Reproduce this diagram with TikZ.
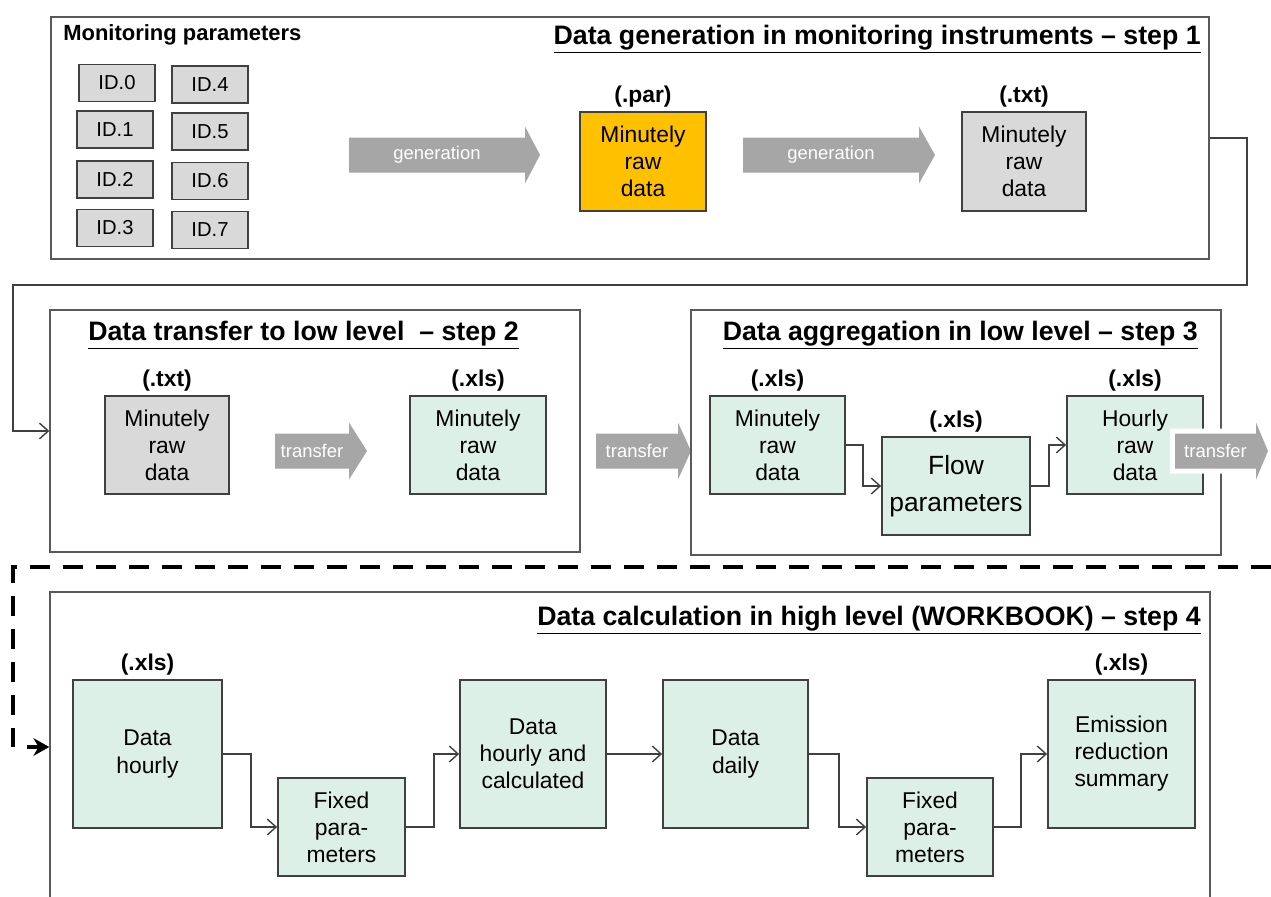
\documentclass[tikz,border=0pt]{standalone}
\usepackage{fontspec}
\setmainfont{Liberation Sans}
\usetikzlibrary{positioning, fit, arrows.meta}

\definecolor{idgray}{HTML}{D9D9D9}
\definecolor{mint}{HTML}{DDF0E7}
\definecolor{amber}{HTML}{FFC000}
\definecolor{arrgray}{HTML}{A6A6A6}
\definecolor{edge}{HTML}{404040}

\tikzset{
  stepframe/.style={draw=black!65, line width=0.8pt, inner sep=0pt},
  databox/.style={draw=edge, line width=1pt, align=center, inner sep=1pt, font=\fontsize{13}{15.4}\selectfont},
  greybox/.style={databox, fill=idgray},
  greenbox/.style={databox, fill=mint},
  idbox/.style={draw=edge, line width=1pt, fill=idgray, minimum width=1.52cm, minimum height=0.74cm, font=\fontsize{11.5}{13}\selectfont},
  ext/.style={font=\bfseries\fontsize{13}{15}\selectfont, inner sep=0pt},
  steptitle/.style={font=\bfseries\fontsize{15.2}{18}\selectfont, inner sep=0pt},
  link/.style={draw=edge, line width=0.8pt, -{Straight Barb[length=5pt, width=9pt]}},
  arrtext/.style={text=white, font=\fontsize{10.5}{12}\selectfont, inner sep=0pt},
  dashline/.style={line width=2pt, dash pattern=on 0.4cm off 0.26cm},
}

% grey block arrow: [extra]{name}{x tail}{x head}{x tip}{y}{text}
\newcommand{\grayarrow}[7][]{%
  \fill[arrgray,#1] (#3,#6-17.5) -- (#4,#6-17.5) -- (#4,#6-28.5) -- (#5,#6) -- (#4,#6+28.5) -- (#4,#6+17.5) -- (#3,#6+17.5) -- cycle;
  \node[arrtext] (#2) at ({(#3+#4)/2},#6) {#7};}

\begin{document}
\begin{tikzpicture}[x=0.02cm, y=-0.02cm]
\useasboundingbox (0,0) rectangle (1271,896);

% step 1
\node[stepframe, fit={(51,17) (1209,259)}] (f1) {};
\node[steptitle, anchor=east] (t1) at (1201,39) {\underline{Data generation in monitoring instruments – step 1}};
\node[font=\bfseries\fontsize{12.5}{15}\selectfont, anchor=west, inner sep=0pt] (mp) at (63,35) {Monitoring parameters};

\node[idbox] (id0) at (117,83) {ID.0};
\node[idbox] (id1) at (115,129.5) {ID.1};
\node[idbox] (id2) at (115,179.5) {ID.2};
\node[idbox] (id3) at (115,228) {ID.3};
\node[idbox] (id4) at (210,84.5) {ID.4};
\node[idbox] (id5) at (210,131.5) {ID.5};
\node[idbox] (id6) at (210,181) {ID.6};
\node[idbox] (id7) at (210,230) {ID.7};

\grayarrow{gen1}{349}{525}{540}{155}{generation}
\node[databox, fill=amber, minimum width=2.52cm, minimum height=1.98cm] (par) at (643,161.5) {Minutely\\raw\\data};
\node[ext, above=2pt of par] (parl) {(.par)};
\grayarrow{gen2}{743}{919}{935}{155}{generation}
\node[greybox, minimum width=2.48cm, minimum height=1.98cm] (txt1) at (1024,161.5) {Minutely\\raw\\data};
\node[ext, above=2pt of txt1] (txt1l) {(.txt)};

% step 2
\node[stepframe, fit={(50,310) (580,552)}] (f2) {};
\node[steptitle, anchor=west] (t2) at (88,335) {\underline{Data transfer to low level~ – step 2}};
\node[greybox, minimum width=2.48cm, minimum height=1.96cm] (txt2) at (167,445) {Minutely\\raw\\data};
\node[ext, above=2pt of txt2] (txt2l) {(.txt)};
\grayarrow{tr1}{275}{349}{367}{451}{transfer}
\node[greenbox, minimum width=2.72cm, minimum height=1.96cm] (xls2) at (478,445) {Minutely\\raw\\data};
\node[ext, above=2pt of xls2] (xls2l) {(.xls)};

\draw[link] (f1.east |- 0,138) -| (1247,285) -- (13,285) |- (f2.west);%vers step 2

\grayarrow{tr2}{596}{678}{691}{451}{transfer}

% step 3
\node[stepframe, fit={(691,310) (1221,555)}] (f3) {};
\node[steptitle, anchor=east] (t3) at (1198,335) {\underline{Data aggregation in low level – step 3}};
\node[greenbox, minimum width=2.7cm, minimum height=1.96cm] (min3) at (777.5,445) {Minutely\\raw\\data};
\node[ext, above=2pt of min3] (min3l) {(.xls)};
\node[greenbox, minimum width=2.96cm, minimum height=1.96cm, font=\fontsize{15}{21}\selectfont] (flow) at (956,486) {Flow\\parameters};
\node[ext, above=2pt of flow] (flowl) {(.xls)};
\node[greenbox, minimum width=2.72cm, minimum height=1.96cm] (hour) at (1135,445) {Hourly\\raw\\data};
\node[ext, above=2pt of hour] (hourl) {(.xls)};
\draw[link] (min3.east) -- ++(17,0) |- (flow.west);
\draw[link] (flow.east) -- ++(18,0) |- (hour.west);
\grayarrow[preaction={draw=white, line width=0.2cm}]{tr3}{1175}{1256}{1268}{451}{transfer}

% separation + step 4
\coordinate (dst) at (1271,567);
\coordinate (dbend) at (13,747);
\coordinate (dtail) at (27,747);
\draw[dashline] (dst) -| (dbend);

\node[stepframe, fit={(50,592) (1210,920)}] (f4) {};
\draw[line width=1.8pt, -{Stealth[length=9pt, width=10pt]}] (dtail) -- (f4.west |- dtail);
\node[steptitle, anchor=east] (t4) at (1201,620) {\underline{Data calculation in high level (WORKBOOK) – step 4}};

\node[greenbox, minimum width=2.98cm, minimum height=2.96cm] (dh) at (147.5,754) {Data\\hourly};
\node[ext, above=2pt of dh] (dhl) {(.xls)};
\node[greenbox, minimum width=2.54cm, minimum height=1.96cm] (fp1) at (341.5,827) {Fixed\\para-\\meters};
\node[greenbox, minimum width=2.92cm, minimum height=2.96cm] (dhc) at (533,754) {Data\\hourly and\\calculated};
\node[greenbox, minimum width=2.9cm, minimum height=2.96cm] (dd) at (735.5,754) {Data\\daily};
\node[greenbox, minimum width=2.52cm, minimum height=1.96cm] (fp2) at (930,827) {Fixed\\para-\\meters};
\node[greenbox, minimum width=2.94cm, minimum height=2.96cm] (ers) at (1121.5,754) {Emission\\reduction\\summary};
\node[ext, above=2pt of ers] (ersl) {(.xls)};

\draw[link] (dh.east) -- ++(28,0) |- (fp1.west);
\draw[link] (fp1.east) -- ++(28,0) |- (dhc.west);
\draw[link] (dhc.east) -- (dd.west);
\draw[link] (dd.east) -- ++(30,0) |- (fp2.west);
\draw[link] (fp2.east) -- ++(27,0) |- (ers.west);
\end{tikzpicture}
\end{document}
